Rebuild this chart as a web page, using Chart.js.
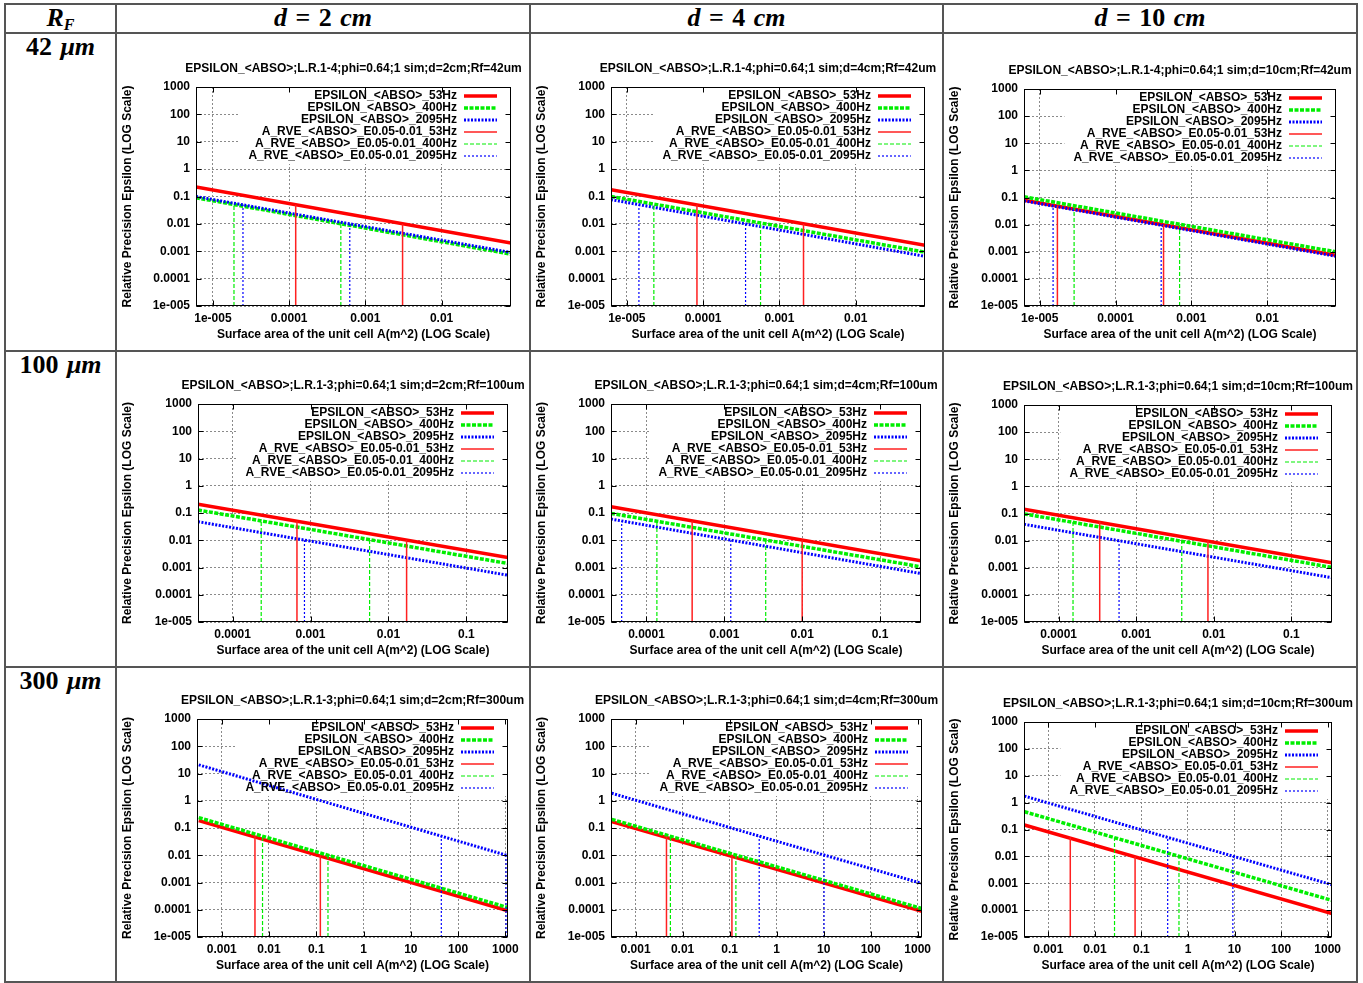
<!DOCTYPE html>
<html>
<head>
<meta charset="utf-8">
<title>Relative precision epsilon vs unit cell area</title>
<script src="https://cdn.jsdelivr.net/npm/chart.js@4.4.1/dist/chart.umd.min.js"></script>
<style>
  body { margin: 0; background: #fff; }
  #sheet { position: relative; width: 1363px; height: 983px; overflow: hidden; background: #fff; }
  .rule { position: absolute; background: #555; }
  .head { position: absolute; font-family: "Liberation Serif", "DejaVu Serif", serif; font-weight: bold; font-size: 26px; line-height: 28px; text-align: center; white-space: nowrap; word-spacing: 2px; color: #000; }
  .head sub { font-size: 16px; vertical-align: -4px; }
  canvas { position: absolute; }
</style>
</head>
<body>
<div id="sheet"></div>
<script>
// ---- data ----
const rowLabels = ['42', '100', '300'];      // fibre radius Rf (um)
const colLabels = ['2', '4', '10'];          // thickness d (cm)

const panelTitles = [
  'EPSILON_<ABSO>;L.R.1-4;phi=0.64;1 sim;d=2cm;Rf=42um',
  'EPSILON_<ABSO>;L.R.1-4;phi=0.64;1 sim;d=4cm;Rf=42um',
  'EPSILON_<ABSO>;L.R.1-4;phi=0.64;1 sim;d=10cm;Rf=42um',
  'EPSILON_<ABSO>;L.R.1-3;phi=0.64;1 sim;d=2cm;Rf=100um',
  'EPSILON_<ABSO>;L.R.1-3;phi=0.64;1 sim;d=4cm;Rf=100um',
  'EPSILON_<ABSO>;L.R.1-3;phi=0.64;1 sim;d=10cm;Rf=100um',
  'EPSILON_<ABSO>;L.R.1-3;phi=0.64;1 sim;d=2cm;Rf=300um',
  'EPSILON_<ABSO>;L.R.1-3;phi=0.64;1 sim;d=4cm;Rf=300um',
  'EPSILON_<ABSO>;L.R.1-3;phi=0.64;1 sim;d=10cm;Rf=300um'
];

const seriesLabels = [
  'EPSILON_<ABSO>_53Hz',
  'EPSILON_<ABSO>_400Hz',
  'EPSILON_<ABSO>_2095Hz',
  'A_RVE_<ABSO>_E0.05-0.01_53Hz',
  'A_RVE_<ABSO>_E0.05-0.01_400Hz',
  'A_RVE_<ABSO>_E0.05-0.01_2095Hz'
];

// first / last surface area sampled in each panel (m^2)
const areaFirst = [6.0e-6, 6.2e-6, 6.2e-6, 3.6e-5, 3.5e-5, 3.57e-5, 3.27e-4, 3.1e-4, 3.06e-4];
const areaLast  = [0.0815, 0.081, 0.081, 0.342, 0.336, 0.334, 1138, 1236, 1240];

// epsilon at first / last area
const eps53First   = [0.225, 0.178, 0.080, 0.208, 0.171, 0.145, 0.186, 0.171, 0.147];
const eps53Last    = [0.0020, 0.00164, 0.00074, 0.00233, 0.00176, 0.00153, 9.1e-5, 8.8e-5, 7.4e-5];
const eps400First  = [0.090, 0.100, 0.106, 0.129, 0.097, 0.097, 0.24, 0.208, 0.46];
const eps400Last   = [0.00078, 0.00093, 0.00099, 0.0014, 0.00106, 0.00103, 1.2e-4, 1.1e-4, 2.3e-4];
const eps2095First = [0.100, 0.077, 0.075, 0.048, 0.060, 0.040, 20.8, 1.89, 1.75];
const eps2095Last  = [0.00090, 0.00065, 0.00068, 0.00052, 0.00060, 0.00043, 0.0096, 0.00092, 0.00088];

// RVE areas where epsilon reaches 0.05 and 0.01 (null = off the plot)
const rveLevels = [0.05, 0.01];
const rve53 = [[1.22e-4, 3.08e-3], [8.3e-5, 2.07e-3], [1.71e-5, 4.3e-4], [6.7e-4, 1.71e-2], [3.86e-4, 1.0e-2],
               [3.38e-4, 8.4e-3], [5.05e-3, 0.122], [4.54e-3, 0.112], [2.96e-3, 0.073]];
const rve400 = [[1.89e-5, 4.77e-4], [2.26e-5, 5.66e-4], [2.84e-5, 7.0e-4], [2.33e-4, 5.73e-3], [1.36e-4, 3.4e-3],
                [1.53e-4, 3.86e-3], [7.3e-3, 0.177], [5.5e-3, 0.136], [0.0264, 0.64]];
const rve2095 = [[2.48e-5, 6.25e-4], [1.44e-5, 3.6e-4], [1.5e-5, 4.0e-4], [null, 8.36e-4], [4.8e-5, 1.21e-3],
                 [null, 6.0e-4], [44.2, 1035], [0.426, 10.2], [0.366, 9.2]];

const yTicks = [1e-5, 1e-4, 1e-3, 0.01, 0.1, 1, 10, 100, 1000];
const yTickLabels = ['1e-005', '0.0001', '0.001', '0.01', '0.1', '1', '10', '100', '1000'];
const xTicksByRow = [
  [1e-5, 1e-4, 1e-3, 0.01],
  [1e-4, 1e-3, 0.01, 0.1],
  [1e-3, 0.01, 0.1, 1, 10, 100, 1000]
];
const xTickLabelsByRow = [
  ['1e-005', '0.0001', '0.001', '0.01'],
  ['0.0001', '0.001', '0.01', '0.1'],
  ['0.001', '0.01', '0.1', '1', '10', '100', '1000']
];

// ---- page layout ----
const colEdges = [5, 116, 530, 943, 1357];
const rowEdges = [4, 33, 351, 667, 982];
// plot frames (left, top, right, bottom) on the page
const plotBoxes = [
  [196, 87, 511, 306], [611, 87, 925, 306], [1024, 89, 1336, 306],
  [198, 404, 508, 622], [611, 404, 921, 622], [1024, 405, 1332, 622],
  [197, 719, 508, 937], [611, 719, 922, 937], [1024, 722, 1332, 937]
];
const seriesStyles = [
  { color: '#ff0000', width: 3.5, dash: [] },
  { color: '#00ee00', width: 3.5, dash: [4, 1.5] },
  { color: '#0000ff', width: 3, dash: [2, 1.5] },
  { color: '#ff2020', width: 1.5, dash: [] },
  { color: '#00ee00', width: 1.2, dash: [4, 2] },
  { color: '#0000ff', width: 1.2, dash: [2, 2] }
];
const FONT = '"Liberation Sans", Arial, sans-serif';

Chart.defaults.font.family = FONT;
Chart.defaults.font.size = 12;
Chart.defaults.font.weight = 'bold';
Chart.defaults.color = '#000';

const sheet = document.getElementById('sheet');

function addRule(x, y, w, h) {
  const d = document.createElement('div');
  d.className = 'rule';
  d.style.cssText = `left:${x}px;top:${y}px;width:${w}px;height:${h}px`;
  sheet.appendChild(d);
}
function addHead(x, y, w, html) {
  const d = document.createElement('div');
  d.className = 'head';
  d.style.cssText = `left:${x}px;top:${y}px;width:${w}px`;
  d.innerHTML = html;
  sheet.appendChild(d);
}

rowEdges.forEach(y => addRule(colEdges[0] - 1, y - 1, colEdges[4] - colEdges[0] + 2, 2));
colEdges.forEach(x => addRule(x - 1, rowEdges[0] - 1, 2, rowEdges[4] - rowEdges[0] + 2));

const labelW = colEdges[1] - colEdges[0];
addHead(colEdges[0], rowEdges[0], labelW, '<i>R</i><sub><i>F</i></sub>');
colLabels.forEach((d, c) => addHead(colEdges[c + 1], rowEdges[0], colEdges[c + 2] - colEdges[c + 1], `<i>d</i> = ${d} <i>cm</i>`));
rowLabels.forEach((rf, r) => addHead(colEdges[0], rowEdges[r + 1], labelW, `${rf} <i>&mu;m</i>`));

function epsPoints(first, last, p) {
  return [{ x: areaFirst[p], y: first[p] }, { x: areaLast[p], y: last[p] }];
}
function rvePoints(pairs, p) {
  const pts = [];
  pairs[p].forEach((a, k) => {
    if (a === null) return;
    if (pts.length) pts.push({ x: a, y: null });
    pts.push({ x: a, y: yTicks[0] }, { x: a, y: rveLevels[k] });
  });
  return pts;
}

function keyGeometry(chart) {
  const { ctx, chartArea: a } = chart;
  ctx.save();
  ctx.font = `bold 12px ${FONT}`;
  const maxW = Math.max(...chart.data.datasets.map(d => ctx.measureText(d.label).width));
  ctx.restore();
  const textRight = a.right - 54;
  return { textRight, boxLeft: textRight - maxW - 9 };
}

// gnuplot-like frame, inward tics, title and key inside the plot
const frame = {
  id: 'frame',
  beforeDatasetsDraw(chart) {
    // key background hides the grid, data stays on top
    const { ctx, chartArea: a } = chart;
    const { boxLeft } = keyGeometry(chart);
    ctx.save();
    ctx.fillStyle = '#fff';
    ctx.fillRect(boxLeft, a.top + 1, a.right - boxLeft - 1, 9 + 12 * chart.data.datasets.length - 5);
    ctx.restore();
  },
  afterDraw(chart, args, opts) {
    const { ctx, chartArea: a, scales: { x, y } } = chart;
    const { textRight } = keyGeometry(chart);
    ctx.save();
    ctx.font = `bold 12px ${FONT}`;
    ctx.fillStyle = '#000';
    ctx.textBaseline = 'middle';

    ctx.textAlign = 'center';
    ctx.fillText(opts.title, (a.left + a.right) / 2, a.top - 18.5);

    chart.data.datasets.forEach((d, i) => {
      const yy = a.top + 9 + 12 * i;
      ctx.fillStyle = '#000';
      ctx.textAlign = 'right';
      ctx.fillText(d.label, textRight, yy);
      ctx.beginPath();
      ctx.setLineDash(d.borderDash || []);
      ctx.lineWidth = d.borderWidth;
      ctx.strokeStyle = d.borderColor;
      ctx.moveTo(a.right - 47, yy);
      ctx.lineTo(a.right - 14, yy);
      ctx.stroke();
    });

    ctx.setLineDash([]);
    ctx.strokeStyle = '#000';
    ctx.lineWidth = 1;
    const L = Math.round(a.left) + 0.5, R = Math.round(a.right) - 0.5;
    const T = Math.round(a.top) + 0.5, B = Math.round(a.bottom) - 0.5;
    ctx.strokeRect(L, T, R - L, B - T);
    ctx.beginPath();
    x.ticks.forEach(t => {
      const px = Math.round(x.getPixelForValue(t.value)) + 0.5;
      ctx.moveTo(px, B); ctx.lineTo(px, B - 5);
      ctx.moveTo(px, T); ctx.lineTo(px, T + 5);
    });
    y.ticks.forEach(t => {
      const py = Math.round(y.getPixelForValue(t.value)) + 0.5;
      ctx.moveTo(L, py); ctx.lineTo(L + 5, py);
      ctx.moveTo(R, py); ctx.lineTo(R - 5, py);
    });
    ctx.stroke();
    ctx.restore();
  }
};

const gridColor = '#8a8a8a';

for (let r = 0; r < 3; r++) {
  for (let c = 0; c < 3; c++) {
    const p = r * 3 + c;
    const [pl, pt, pr, pb] = plotBoxes[p];
    const left = colEdges[c + 1] + 1, top = rowEdges[r + 1] + 1;
    const w = colEdges[c + 2] - colEdges[c + 1] - 2;
    const h = rowEdges[r + 2] - rowEdges[r + 1] - 2;
    const xAxisH = 36;

    const canvas = document.createElement('canvas');
    canvas.width = w; canvas.height = h;
    canvas.style.left = left + 'px'; canvas.style.top = top + 'px';
    canvas.style.width = w + 'px'; canvas.style.height = h + 'px';
    sheet.appendChild(canvas);

    const series = [
      epsPoints(eps53First, eps53Last, p),
      epsPoints(eps400First, eps400Last, p),
      epsPoints(eps2095First, eps2095Last, p),
      rvePoints(rve53, p),
      rvePoints(rve400, p),
      rvePoints(rve2095, p)
    ];
    const datasets = series.map((pts, i) => ({
      label: seriesLabels[i],
      data: pts,
      borderColor: seriesStyles[i].color,
      borderWidth: seriesStyles[i].width,
      borderDash: seriesStyles[i].dash,
      pointRadius: 0,
      fill: false,
      spanGaps: false,
      order: -i
    }));

    const xTicks = xTicksByRow[r], xLabels = xTickLabelsByRow[r];

    new Chart(canvas, {
      type: 'line',
      data: { datasets },
      options: {
        responsive: false,
        animation: false,
        devicePixelRatio: 1,
        layout: { padding: { top: pt - top, right: left + w - pr, bottom: h - (pb - top) - xAxisH, left: 0 } },
        plugins: {
          legend: { display: false },
          title: { display: false },
          tooltip: { enabled: false },
          frame: { title: panelTitles[p] }
        },
        elements: { line: { tension: 0 } },
        scales: {
          x: {
            type: 'logarithmic',
            min: areaFirst[p],
            max: areaLast[p],
            afterBuildTicks: s => { s.ticks = xTicks.map(v => ({ value: v })); },
            afterFit: s => { s.height = xAxisH; },
            ticks: { autoSkip: false, maxRotation: 0, padding: 5, callback: (v, i) => xLabels[i] },
            grid: { color: gridColor, drawTicks: false },
            border: { display: false, dash: [2, 2] },
            title: { display: true, text: 'Surface area of the unit cell A(m^2) (LOG Scale)', padding: 0 }
          },
          y: {
            type: 'logarithmic',
            min: yTicks[0],
            max: yTicks[yTicks.length - 1],
            afterBuildTicks: s => { s.ticks = yTicks.map(v => ({ value: v })); },
            afterFit: s => { s.width = pl - left; },
            ticks: { autoSkip: false, padding: 6, callback: (v, i) => yTickLabels[i] },
            grid: { color: gridColor, drawTicks: false },
            border: { display: false, dash: [2, 2] },
            title: { display: true, text: 'Relative Precision Epsilon (LOG Scale)', padding: { top: 3, bottom: 0 } }
          }
        }
      },
      plugins: [frame]
    });
  }
}
</script>
</body>
</html>
